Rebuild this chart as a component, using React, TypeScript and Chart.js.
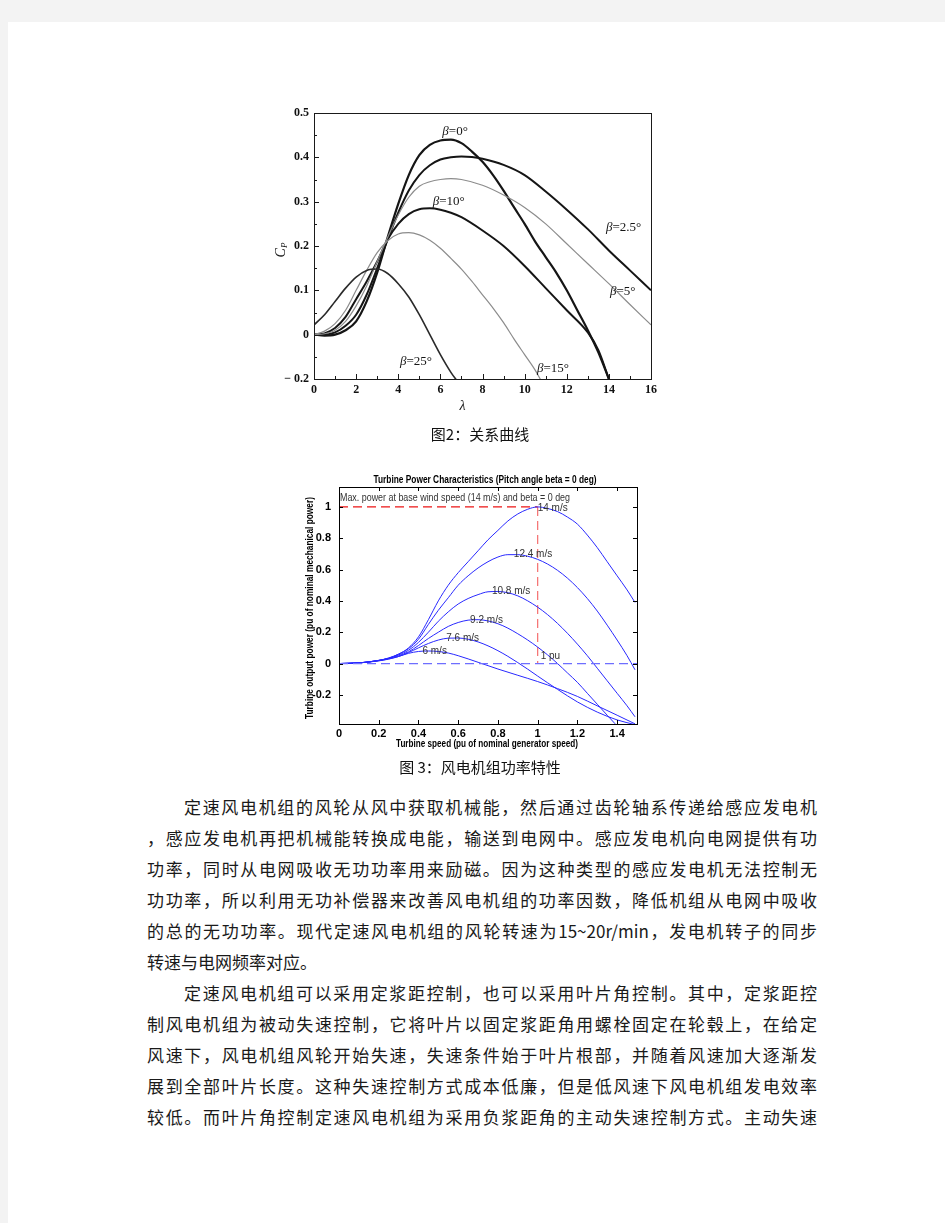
import React, { useEffect, useRef } from "react";
import { Chart, registerables } from "chart.js";
Chart.register(...registerables);

// ---------------- Figure 2 (Cp vs lambda) data ----------------
const lambdaBeta0 = [0, 0.5, 1, 1.5, 2, 2.5, 3, 3.5, 4, 4.5, 5, 5.5, 6, 6.5, 7, 7.5, 8, 8.5, 9, 9.5, 10, 10.5, 11, 11.5, 12, 12.5, 13, 13.5, 14];
const cpBeta0 = [0, -0.002, 0, 0.01, 0.03, 0.075, 0.14, 0.22, 0.295, 0.36, 0.405, 0.428, 0.438, 0.44, 0.432, 0.413, 0.39, 0.36, 0.325, 0.287, 0.25, 0.21, 0.175, 0.14, 0.1, 0.055, 0.01, -0.04, -0.1];

const lambdaBeta25d = [0, 0.5, 1, 1.5, 2, 2.5, 3, 3.5, 4, 4.5, 5, 5.5, 6, 6.5, 7, 7.5, 8, 9, 10, 11, 12, 13, 14, 15, 16];
const cpBeta25d = [0, 0, 0.005, 0.02, 0.045, 0.09, 0.15, 0.215, 0.275, 0.325, 0.36, 0.382, 0.395, 0.4, 0.402, 0.401, 0.397, 0.383, 0.36, 0.323, 0.282, 0.238, 0.19, 0.145, 0.1];

const lambdaBeta5 = [0, 0.5, 1, 1.5, 2, 2.5, 3, 3.5, 4, 4.5, 5, 5.5, 6, 6.5, 7, 8, 9, 10, 11, 12, 13, 14, 15, 16];
const cpBeta5 = [0, 0.002, 0.01, 0.03, 0.065, 0.11, 0.165, 0.22, 0.27, 0.31, 0.335, 0.345, 0.35, 0.352, 0.35, 0.337, 0.315, 0.287, 0.25, 0.205, 0.16, 0.115, 0.068, 0.022];

const lambdaBeta10 = [0, 0.5, 1, 1.5, 2, 2.5, 3, 3.5, 4, 4.5, 5, 5.5, 6, 6.5, 7, 8, 9, 10, 11, 12, 13, 13.5, 14];
const cpBeta10 = [0, 0.003, 0.015, 0.04, 0.08, 0.12, 0.165, 0.215, 0.25, 0.272, 0.283, 0.285, 0.282, 0.275, 0.265, 0.235, 0.2, 0.155, 0.105, 0.055, 0.005, -0.035, -0.1];

const lambdaBeta15 = [0, 0.5, 1, 1.5, 2, 2.5, 3, 3.5, 4, 4.5, 5, 5.5, 6, 6.5, 7, 7.5, 8, 8.5, 9, 9.5, 10, 10.5, 10.8];
const cpBeta15 = [0, 0.008, 0.025, 0.055, 0.1, 0.145, 0.185, 0.212, 0.227, 0.23, 0.225, 0.213, 0.195, 0.172, 0.148, 0.12, 0.09, 0.06, 0.027, -0.01, -0.045, -0.08, -0.105];

const lambdaBeta25 = [0, 0.5, 1, 1.5, 2, 2.5, 3, 3.5, 4, 4.5, 5, 5.5, 6, 6.5, 6.8];
const cpBeta25 = [0.022, 0.045, 0.075, 0.105, 0.13, 0.145, 0.148, 0.138, 0.115, 0.085, 0.045, 0.0, -0.045, -0.085, -0.105];

const fig1XTicks = [0, 2, 4, 6, 8, 10, 12, 14, 16];
const fig1XTickLabels = ["0", "2", "4", "6", "8", "10", "12", "14", "16"];
const fig1YTicks = [-0.1, 0, 0.1, 0.2, 0.3, 0.4, 0.5];
const fig1YTickLabels = ["\u2212 0.2", "0", "0.1", "0.2", "0.3", "0.4", "0.5"];

const betaLabelNames = ["0°", "10°", "2.5°", "5°", "25°", "15°"];
const betaLabelLambda = [6.7, 6.4, 14.7, 14.66, 4.84, 11.35];
const betaLabelCp = [0.458, 0.3, 0.241, 0.098, -0.06, -0.076];

// ---------------- Figure 3 (turbine power) data ----------------
const speed14 = [0, 0.1, 0.2, 0.25, 0.3, 0.35, 0.4, 0.45, 0.5, 0.55, 0.6, 0.65, 0.7, 0.75, 0.8, 0.85, 0.9, 0.95, 1.0, 1.05, 1.1, 1.15, 1.2, 1.25, 1.3, 1.35, 1.4, 1.45, 1.49];
const power14 = [0, 0.004, 0.02, 0.035, 0.06, 0.1, 0.17, 0.28, 0.4, 0.5, 0.58, 0.65, 0.72, 0.79, 0.85, 0.91, 0.955, 0.985, 1.0, 0.99, 0.97, 0.935, 0.89, 0.82, 0.74, 0.65, 0.56, 0.47, 0.39];

const speed124 = [0, 0.1, 0.2, 0.25, 0.3, 0.35, 0.4, 0.45, 0.5, 0.55, 0.6, 0.65, 0.7, 0.75, 0.8, 0.85, 0.9, 0.95, 1.0, 1.05, 1.1, 1.15, 1.2, 1.25, 1.3, 1.35, 1.4, 1.45, 1.49];
const power124 = [0, 0.004, 0.02, 0.035, 0.06, 0.095, 0.155, 0.25, 0.34, 0.42, 0.5, 0.56, 0.61, 0.65, 0.68, 0.695, 0.695, 0.685, 0.665, 0.635, 0.595, 0.545, 0.485, 0.415, 0.335, 0.245, 0.15, 0.05, -0.04];

const speed108 = [0, 0.1, 0.2, 0.25, 0.3, 0.35, 0.4, 0.45, 0.5, 0.55, 0.6, 0.65, 0.7, 0.75, 0.8, 0.85, 0.9, 0.95, 1.0, 1.05, 1.1, 1.15, 1.2, 1.25, 1.3, 1.35, 1.4, 1.45, 1.49];
const power108 = [0, 0.004, 0.02, 0.033, 0.055, 0.085, 0.135, 0.2, 0.27, 0.33, 0.38, 0.415, 0.44, 0.458, 0.46, 0.452, 0.432, 0.4, 0.36, 0.312, 0.256, 0.193, 0.124, 0.05, -0.03, -0.11, -0.19, -0.27, -0.34];

const speed92 = [0, 0.1, 0.2, 0.25, 0.3, 0.35, 0.4, 0.45, 0.5, 0.55, 0.6, 0.65, 0.7, 0.75, 0.8, 0.85, 0.9, 0.95, 1.0, 1.05, 1.1, 1.15, 1.2, 1.25, 1.3, 1.35, 1.39];
const power92 = [0, 0.004, 0.019, 0.032, 0.05, 0.075, 0.115, 0.16, 0.2, 0.237, 0.262, 0.277, 0.28, 0.272, 0.254, 0.226, 0.19, 0.15, 0.105, 0.055, 0.0, -0.06, -0.12, -0.19, -0.26, -0.33, -0.385];

const speed76 = [0, 0.1, 0.2, 0.25, 0.3, 0.35, 0.4, 0.45, 0.5, 0.55, 0.6, 0.65, 0.7, 0.75, 0.8, 0.85, 0.9, 0.95, 1.0, 1.1, 1.2, 1.3, 1.4, 1.49];
const power76 = [0, 0.004, 0.018, 0.03, 0.045, 0.07, 0.1, 0.128, 0.15, 0.162, 0.163, 0.155, 0.138, 0.113, 0.082, 0.046, 0.006, -0.036, -0.08, -0.165, -0.245, -0.31, -0.36, -0.39];

const speed6 = [0, 0.1, 0.2, 0.25, 0.3, 0.35, 0.4, 0.45, 0.5, 0.55, 0.6, 0.7, 0.8, 0.9, 1.0, 1.1, 1.2, 1.3, 1.4, 1.49];
const power6 = [0, 0.004, 0.017, 0.028, 0.045, 0.065, 0.077, 0.08, 0.077, 0.067, 0.05, 0.008, -0.035, -0.075, -0.115, -0.16, -0.21, -0.27, -0.33, -0.385];

const windLabels = ["14 m/s", "12.4 m/s", "10.8 m/s", "9.2 m/s", "7.6 m/s", "6 m/s"];
const windLabelSpeed = [1.0, 0.88, 0.77, 0.66, 0.54, 0.42];
const windLabelPower = [0.99, 0.696, 0.46, 0.278, 0.161, 0.076];

const maxPowerX = [0, 1];
const maxPowerY = [1, 1];
const onePuX = [1, 1];
const onePuY = [1, 0];
const zeroLineX = [0, 1.5];
const zeroLineY = [0, 0];

const fig2XTicks = [0, 0.2, 0.4, 0.6, 0.8, 1, 1.2, 1.4];
const fig2XTickLabels = ["0", "0.2", "0.4", "0.6", "0.8", "1", "1.2", "1.4"];
const fig2YTicks = [-0.2, 0, 0.2, 0.4, 0.6, 0.8, 1];
const fig2YTickLabels = ["-0.2", "0", "0.2", "0.4", "0.6", "0.8", "1"];

const fig2Title = "Turbine Power Characteristics (Pitch angle beta = 0 deg)";
const fig2XTitle = "Turbine speed (pu of nominal generator speed)";
const fig2YTitle = "Turbine output power (pu of nominal mechanical power)";
const fig2Note = "Max. power at base wind speed (14 m/s) and beta = 0 deg";
const onePuLabel = "1 pu";

// ---------------- page text ----------------
const caption1 = "图2：关系曲线";
const caption2 = "图 3：风电机组功率特性";
const bodyLines = [
  "定速风电机组的风轮从风中获取机械能，然后通过齿轮轴系传递给感应发电机",
  "，感应发电机再把机械能转换成电能，输送到电网中。感应发电机向电网提供有功",
  "功率，同时从电网吸收无功功率用来励磁。因为这种类型的感应发电机无法控制无",
  "功功率，所以利用无功补偿器来改善风电机组的功率因数，降低机组从电网中吸收",
  "的总的无功功率。现代定速风电机组的风轮转速为15~20r/min，发电机转子的同步",
  "转速与电网频率对应。",
  "定速风电机组可以采用定浆距控制，也可以采用叶片角控制。其中，定浆距控",
  "制风电机组为被动失速控制，它将叶片以固定浆距角用螺栓固定在轮毂上，在给定",
  "风速下，风电机组风轮开始失速，失速条件始于叶片根部，并随着风速加大逐渐发",
  "展到全部叶片长度。这种失速控制方式成本低廉，但是低风速下风电机组发电效率",
  "较低。而叶片角控制定速风电机组为采用负浆距角的主动失速控制方式。主动失速",
];
const indentedLines = [0, 6];
const lastParagraphLines = [5];

const pts = (xs: number[], ys: number[]) => xs.map((v, i) => ({ x: v, y: ys[i] }));

function fitText(ctx: any, text: string, cx: number, cy: number, w: number) {
  const m = ctx.measureText(text).width;
  ctx.save();
  ctx.translate(cx, cy);
  ctx.scale(w / m, 1);
  ctx.textAlign = "center";
  ctx.fillText(text, 0, 0);
  ctx.restore();
}

const fig1Decor = {
  id: "fig1Decor",
  afterDraw(chart: any) {
    const { ctx, chartArea: a, scales } = chart;
    const x = scales.x;
    const y = scales.y;
    ctx.save();
    ctx.strokeStyle = "#1a1a1a";
    ctx.lineWidth = 1;
    ctx.strokeRect(Math.round(a.left) + 0.5, Math.round(a.top) + 0.5, Math.round(a.right - a.left), Math.round(a.bottom - a.top));
    ctx.beginPath();
    const xt = x.ticks.map((t: any) => t.value);
    for (let i = 0; i < xt.length; i++) {
      const p = Math.round(x.getPixelForValue(xt[i])) + 0.5;
      ctx.moveTo(p, a.bottom);
      ctx.lineTo(p, a.bottom - 5);
      if (i < xt.length - 1) {
        const m = Math.round(x.getPixelForValue((xt[i] + xt[i + 1]) / 2)) + 0.5;
        ctx.moveTo(m, a.bottom);
        ctx.lineTo(m, a.bottom - 3);
      }
    }
    const yt = y.ticks.map((t: any) => t.value);
    for (let i = 0; i < yt.length; i++) {
      const p = Math.round(y.getPixelForValue(yt[i])) + 0.5;
      ctx.moveTo(a.left, p);
      ctx.lineTo(a.left + 5, p);
      if (i < yt.length - 1) {
        const m = Math.round(y.getPixelForValue((yt[i] + yt[i + 1]) / 2)) + 0.5;
        ctx.moveTo(a.left, m);
        ctx.lineTo(a.left + 3, m);
      }
    }
    ctx.stroke();

    // curve labels
    ctx.fillStyle = "#151515";
    ctx.textBaseline = "middle";
    for (let i = 0; i < betaLabelNames.length; i++) {
      const cx = x.getPixelForValue(betaLabelLambda[i]);
      const cy = y.getPixelForValue(betaLabelCp[i]);
      ctx.font = "italic 13px 'Liberation Serif'";
      const wb = ctx.measureText("β").width;
      ctx.font = "13px 'Liberation Serif'";
      const rest = "=" + betaLabelNames[i];
      const wr = ctx.measureText(rest).width;
      const left = cx - (wb + wr) / 2;
      ctx.textAlign = "left";
      ctx.font = "italic 13px 'Liberation Serif'";
      ctx.fillText("β", left, cy);
      ctx.font = "13px 'Liberation Serif'";
      ctx.fillText(rest, left + wb, cy);
    }

    // axis titles
    ctx.font = "italic 14px 'Liberation Serif'";
    ctx.textAlign = "center";
    ctx.fillText("λ", (a.left + a.right) / 2 - 20, a.bottom + 27);

    ctx.save();
    ctx.translate(a.left - 33, (a.top + a.bottom) / 2 + 4);
    ctx.rotate(-Math.PI / 2);
    ctx.textAlign = "left";
    ctx.font = "italic 14px 'Liberation Serif'";
    const wc = ctx.measureText("C").width;
    ctx.font = "italic 9px 'Liberation Serif'";
    const wp = ctx.measureText("P").width;
    const l0 = -(wc + wp) / 2;
    ctx.font = "italic 14px 'Liberation Serif'";
    ctx.fillText("C", l0, 0);
    ctx.font = "italic 9px 'Liberation Serif'";
    ctx.fillText("P", l0 + wc, 4);
    ctx.restore();
    ctx.restore();
  },
};

const fig2Decor = {
  id: "fig2Decor",
  afterDraw(chart: any) {
    const { ctx, chartArea: a, scales } = chart;
    const x = scales.x;
    const y = scales.y;
    ctx.save();
    ctx.strokeStyle = "#000";
    ctx.lineWidth = 1;
    ctx.strokeRect(Math.round(a.left) + 0.5, Math.round(a.top) + 0.5, Math.round(a.right - a.left), Math.round(a.bottom - a.top));
    ctx.beginPath();
    x.ticks.forEach((t: any) => {
      const p = Math.round(x.getPixelForValue(t.value)) + 0.5;
      ctx.moveTo(p, a.bottom);
      ctx.lineTo(p, a.bottom - 4);
      ctx.moveTo(p, a.top);
      ctx.lineTo(p, a.top + 4);
    });
    y.ticks.forEach((t: any) => {
      const p = Math.round(y.getPixelForValue(t.value)) + 0.5;
      ctx.moveTo(a.left, p);
      ctx.lineTo(a.left + 4, p);
      ctx.moveTo(a.right, p);
      ctx.lineTo(a.right - 4, p);
    });
    ctx.stroke();

    ctx.fillStyle = "#000";
    ctx.textBaseline = "middle";
    ctx.font = "bold 10px 'Liberation Sans'";
    fitText(ctx, fig2Title, 195, 15, 223);
    ctx.font = "bold 11px 'Liberation Sans'";
    fitText(ctx, fig2XTitle, 197, 279, 182);
    ctx.save();
    ctx.translate(20, 143);
    ctx.rotate(-Math.PI / 2);
    ctx.font = "bold 11px 'Liberation Sans'";
    fitText(ctx, fig2YTitle, 0, 0, 222);
    ctx.restore();

    ctx.fillStyle = "#333";
    ctx.font = "10.5px 'Liberation Sans'";
    fitText(ctx, fig2Note, a.left + 1 + 115, a.top + 11, 230);

    ctx.font = "10px 'Liberation Sans'";
    ctx.textAlign = "left";
    for (let i = 0; i < windLabels.length; i++) {
      ctx.fillText(windLabels[i], x.getPixelForValue(windLabelSpeed[i]), y.getPixelForValue(windLabelPower[i]));
    }
    ctx.fillText(onePuLabel, x.getPixelForValue(1.015), y.getPixelForValue(0.045));
    ctx.restore();
  },
};

function makeFig1(canvas: HTMLCanvasElement) {
  const curve = (xs: number[], ys: number[], color: string, w: number) => ({
    data: pts(xs, ys),
    borderColor: color,
    borderWidth: w,
    pointRadius: 0,
    cubicInterpolationMode: "monotone" as const,
    fill: false,
  });
  return new Chart(canvas, {
    type: "line",
    data: {
      datasets: [
        curve(lambdaBeta25, cpBeta25, "#2a2a2a", 1.6),
        curve(lambdaBeta15, cpBeta15, "#8c8c8c", 1.2),
        curve(lambdaBeta5, cpBeta5, "#8c8c8c", 1.2),
        curve(lambdaBeta10, cpBeta10, "#151515", 2),
        curve(lambdaBeta25d, cpBeta25d, "#151515", 2),
        curve(lambdaBeta0, cpBeta0, "#151515", 2.2),
      ],
    },
    options: {
      responsive: false,
      animation: false,
      events: [],
      layout: { padding: { top: 18, right: 14, left: 0, bottom: 0 } },
      plugins: { legend: { display: false }, tooltip: { enabled: false } },
      scales: {
        x: {
          type: "linear",
          min: 0,
          max: 16,
          grid: { display: false, drawTicks: false },
          border: { display: false },
          afterBuildTicks: (s: any) => { s.ticks = fig1XTicks.map((v) => ({ value: v })); },
          afterFit: (s: any) => { s.height = 46; },
          ticks: {
            padding: 4,
            color: "#111",
            font: { family: "'Liberation Serif'", size: 12, weight: "bold" },
            callback: (_v: any, i: number) => fig1XTickLabels[i],
          },
        },
        y: {
          type: "linear",
          min: -0.1,
          max: 0.5,
          grid: { display: false, drawTicks: false },
          border: { display: false },
          afterBuildTicks: (s: any) => { s.ticks = fig1YTicks.map((v) => ({ value: v })); },
          afterFit: (s: any) => { s.width = 59; },
          ticks: {
            padding: 5,
            color: "#111",
            font: { family: "'Liberation Serif'", size: 12, weight: "bold" },
            callback: (_v: any, i: number) => fig1YTickLabels[i],
          },
        },
      },
    },
    plugins: [fig1Decor],
  } as any);
}

function makeFig2(canvas: HTMLCanvasElement) {
  const blue = (xs: number[], ys: number[]) => ({
    data: pts(xs, ys),
    borderColor: "rgb(40,40,255)",
    borderWidth: 1,
    pointRadius: 0,
    cubicInterpolationMode: "monotone" as const,
    fill: false,
  });
  const dashed = (xs: number[], ys: number[], color: string) => ({
    data: pts(xs, ys),
    borderColor: color,
    borderWidth: 1.2,
    borderDash: [9, 5],
    pointRadius: 0,
    tension: 0,
    fill: false,
  });
  return new Chart(canvas, {
    type: "line",
    data: {
      datasets: [
        dashed(zeroLineX, zeroLineY, "rgb(110,110,255)"),
        blue(speed6, power6),
        blue(speed76, power76),
        blue(speed92, power92),
        blue(speed108, power108),
        blue(speed124, power124),
        blue(speed14, power14),
        dashed(maxPowerX, maxPowerY, "rgb(235,20,20)"),
        dashed(onePuX, onePuY, "rgb(245,110,110)"),
      ],
    },
    options: {
      responsive: false,
      animation: false,
      events: [],
      layout: { padding: { top: 22, right: 13, left: 0, bottom: 0 } },
      plugins: { legend: { display: false }, tooltip: { enabled: false } },
      scales: {
        x: {
          type: "linear",
          min: 0,
          max: 1.5,
          grid: { display: false, drawTicks: false },
          border: { display: false },
          afterBuildTicks: (s: any) => { s.ticks = fig2XTicks.map((v) => ({ value: v })); },
          afterFit: (s: any) => { s.height = 31; },
          ticks: {
            padding: 3,
            color: "#000",
            font: { family: "'Liberation Sans'", size: 11, weight: "bold" },
            callback: (_v: any, i: number) => fig2XTickLabels[i],
          },
        },
        y: {
          type: "linear",
          min: -0.386,
          max: 1.127,
          grid: { display: false, drawTicks: false },
          border: { display: false },
          afterBuildTicks: (s: any) => { s.ticks = fig2YTicks.map((v) => ({ value: v })); },
          afterFit: (s: any) => { s.width = 49; },
          ticks: {
            padding: 8,
            color: "#000",
            font: { family: "'Liberation Sans'", size: 11, weight: "bold" },
            callback: (_v: any, i: number) => fig2YTickLabels[i],
          },
        },
      },
    },
    plugins: [fig2Decor],
  } as any);
}

export default function App() {
  const ref1 = useRef<HTMLCanvasElement>(null);
  const ref2 = useRef<HTMLCanvasElement>(null);
  useEffect(() => {
    const c1 = makeFig1(ref1.current!);
    const c2 = makeFig2(ref2.current!);
    return () => {
      c1.destroy();
      c2.destroy();
    };
  }, []);

  const abs = (l: number, t: number, w: number, h: number): React.CSSProperties => ({
    position: "absolute", left: l, top: t, width: w, height: h,
  });
  const cjk = "'Noto Sans CJK SC', 'Noto Sans', sans-serif";

  return (
    <div style={{ position: "absolute", left: 0, top: 0, width: 945, height: 1223, background: "#f3f3f3", overflow: "hidden" }}>
      <div style={{ position: "absolute", left: 8, top: 22, right: 0, bottom: 0, background: "#fff" }} />
      <canvas ref={ref1} width={410} height={330} style={abs(255, 95, 410, 330)} />
      <div style={{ ...abs(330, 423, 300, 22), textAlign: "center", font: `15px ${cjk}`, lineHeight: "22px", color: "#111" }}>{caption1}</div>
      <canvas ref={ref2} width={360} height={290} style={abs(290, 465, 360, 290)} />
      <div style={{ ...abs(330, 756, 300, 22), textAlign: "center", font: `15px ${cjk}`, lineHeight: "22px", color: "#111" }}>{caption2}</div>
      {bodyLines.map((line, i) => {
        const indent = indentedLines.includes(i);
        const last = lastParagraphLines.includes(i);
        return (
          <div
            key={i}
            style={{
              position: "absolute",
              left: 147,
              top: 807 + i * 31 - 15,
              width: 670,
              height: 30,
              boxSizing: "border-box",
              paddingLeft: indent ? 37 : 0,
              font: `17px ${cjk}`,
              lineHeight: "30px",
              color: "#1a1a1a",
              whiteSpace: "nowrap",
              textAlign: last ? "left" : "justify",
              textAlignLast: last ? "left" : "justify",
            }}
          >
            {line}
          </div>
        );
      })}
    </div>
  );
}
